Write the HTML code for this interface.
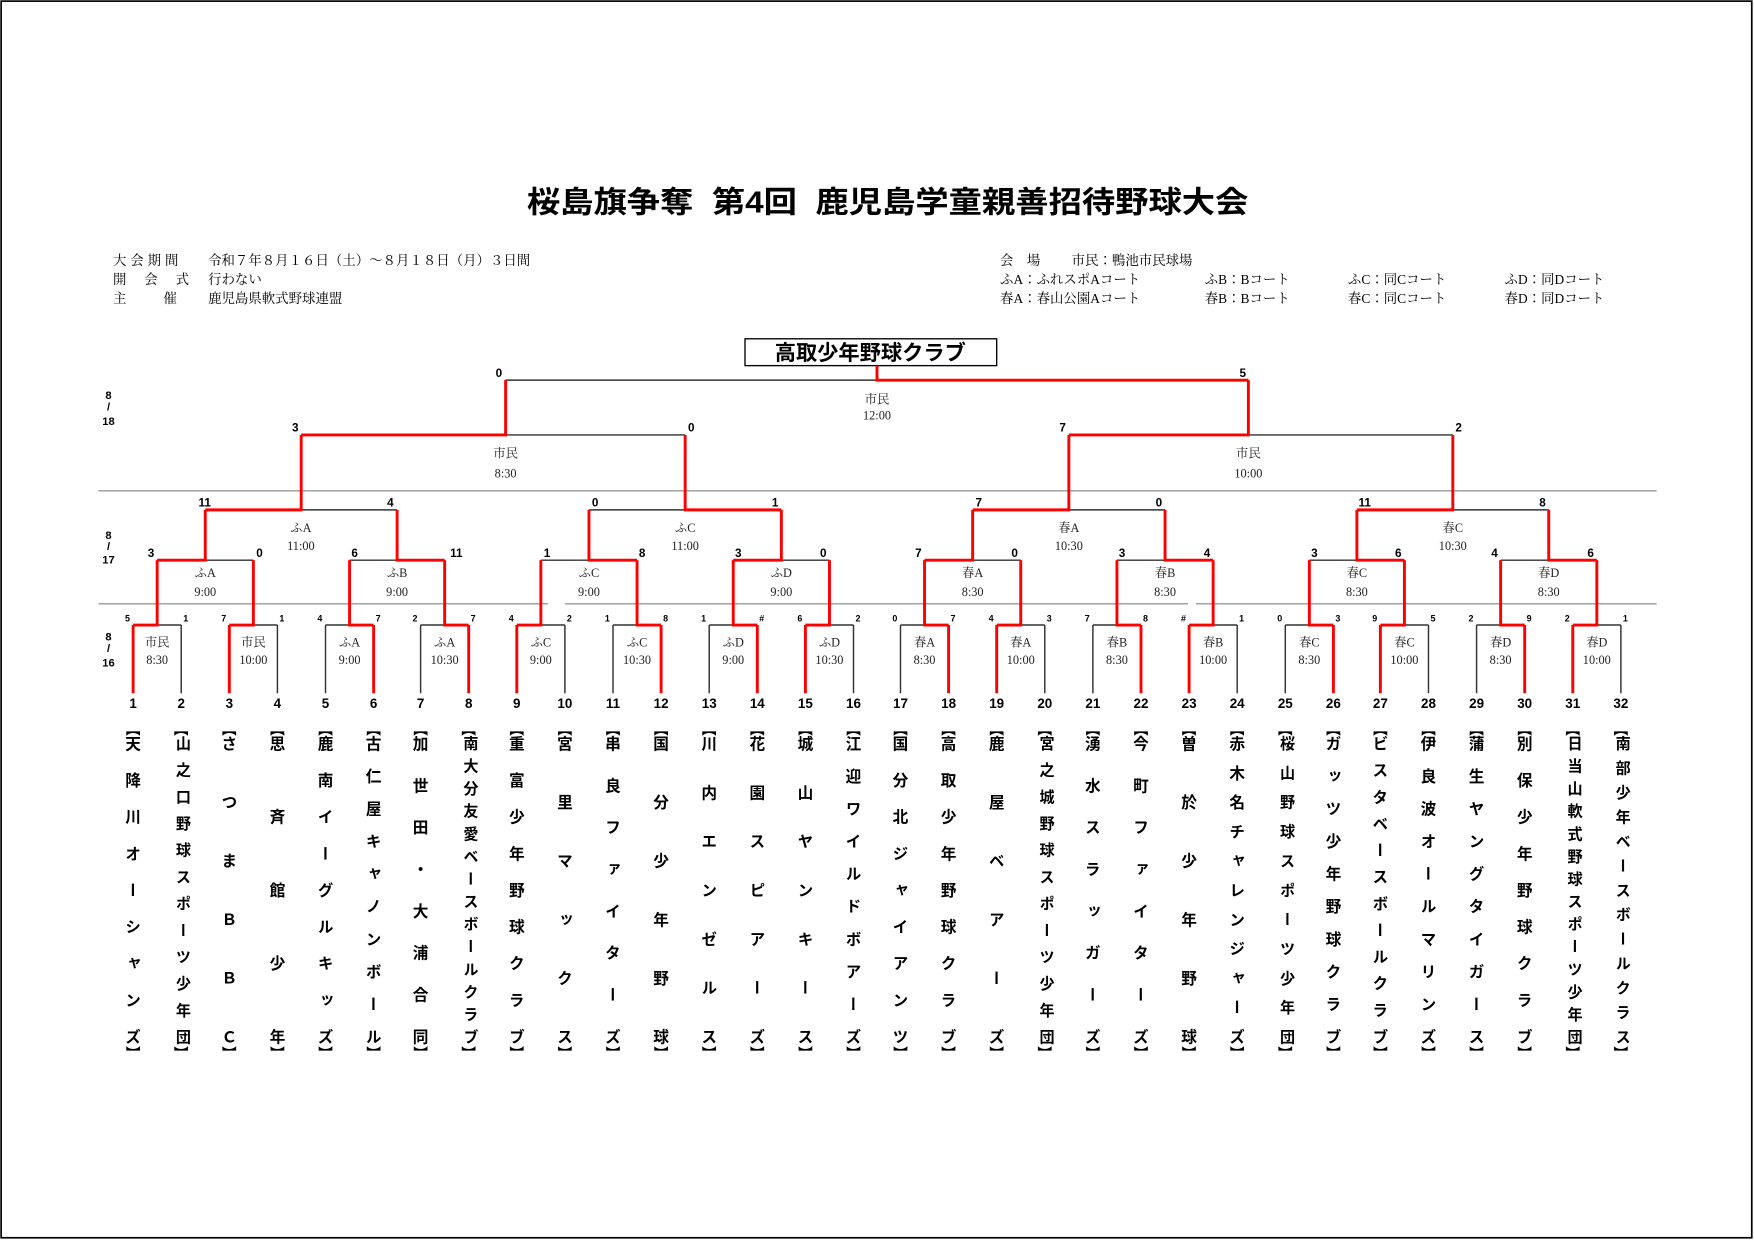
<!DOCTYPE html>
<html><head><meta charset="utf-8">
<style>
html,body{margin:0;padding:0;background:#fff;}
body{width:1754px;height:1240px;overflow:hidden;position:relative;}
#c{position:absolute;left:0;top:0;width:1568px;height:1109px;transform:scale(1.11862,1.11812);transform-origin:0 0;}
svg{position:absolute;left:0;top:0;}
.nm{position:absolute;top:658px;height:276px;width:18px;writing-mode:vertical-rl;text-orientation:upright;text-align:justify;text-align-last:justify;font-family:"Liberation Sans","Noto Sans CJK JP",sans-serif;font-weight:700;font-size:14px;line-height:18px;color:#000;}
.nm.s{font-size:13.5px;}
.br{position:absolute;width:18px;text-align:center;font-family:"Noto Sans CJK JP",sans-serif;font-weight:700;font-size:13px;line-height:13px;}
.info{position:absolute;font-family:"Liberation Serif","Noto Serif CJK JP",serif;font-size:12px;line-height:14px;white-space:nowrap;}
.lab{letter-spacing:3.5px;}
</style></head><body>
<div id="c">
<svg width="1568" height="1109" viewBox="0 0 1568 1109">
<rect x="1" y="1" width="1565" height="1106" fill="none" stroke="#000" stroke-width="1.5"/>
<text x="471" y="190" textLength="645" lengthAdjust="spacingAndGlyphs" font-family="Liberation Sans,Noto Sans CJK JP,sans-serif" font-weight="700" font-size="27" xml:space="preserve">桜島旗争奪  第4回  鹿児島学童親善招待野球大会</text>
<line x1="88" y1="439" x2="1481" y2="439" stroke="#999" stroke-width="1.2"/>
<line x1="88" y1="540" x2="490" y2="540" stroke="#999" stroke-width="1.2"/>
<line x1="505" y1="540" x2="1062" y2="540" stroke="#999" stroke-width="1.2"/>
<line x1="1069" y1="540" x2="1481" y2="540" stroke="#999" stroke-width="1.2"/>
<g font-family="Liberation Sans,sans-serif" font-weight="700" font-size="10" text-anchor="middle">
<text x="97" y="357">8</text><text x="97" y="367">/</text><text x="97" y="380">18</text>
<text x="97" y="482">8</text><text x="97" y="492">/</text><text x="97" y="504">17</text>
<text x="97" y="573">8</text><text x="97" y="583">/</text><text x="97" y="596">16</text>
</g>
<rect x="666" y="303" width="225" height="24" fill="#fff" stroke="#000" stroke-width="1.2"/>
<text x="778" y="322" text-anchor="middle" font-family="Liberation Sans,Noto Sans CJK JP,sans-serif" font-weight="700" font-size="19">高取少年野球クラブ</text>
<path fill="none" stroke="#333" stroke-width="1.3" d="
M162 620V559M248 620V559M291 620V559M376 620V559M505 620V559M548 620V559M634 620V559M763 620V559M805 620V559M934 620V559M977 620V559M1106 620V559M1149 620V559M1277 620V559M1320 620V559M1449 620V559
M162 559H140.5M248 559H226.5M291 559H312.5M376 559H397.5M505 559H483.5M548 559H569.5M634 559H655.5M763 559H741.5M805 559H826.5M934 559H912.5M977 559H998.5M1106 559H1084.5M1149 559H1170.5M1277 559H1255.5M1320 559H1341.5M1449 559H1427.5
M226.5 501H183.5M312.5 501H355M483.5 501H526.5M741.5 501H698.5M912.5 501H869.5M998.5 501H1041.5M1170.5 501H1213M1341.5 501H1384.5
M355 456H269.25M526.5 456H612.5M1041.5 456H955.5M1384.5 456H1298.75
M612.5 389H452M1298.75 389H1116M452 340H784"/>
<path fill="none" stroke="#f00" stroke-width="2.6" stroke-linejoin="miter" d="
M119 620V559M205 620V559M334 620V559M419 620V559M462 620V559M591 620V559M677 620V559M720 620V559M848 620V559M891 620V559M1020 620V559M1063 620V559M1192 620V559M1234 620V559M1363 620V559M1406 620V559
M119 559H140.5V501M205 559H226.5V501M334 559H312.5V501M419 559H397.5V501M462 559H483.5V501M591 559H569.5V501M677 559H655.5V501M720 559H741.5V501M848 559H826.5V501M891 559H912.5V501M1020 559H998.5V501M1063 559H1084.5V501M1192 559H1170.5V501M1234 559H1255.5V501M1363 559H1341.5V501M1406 559H1427.5V501
M140.5 501H183.5V456M397.5 501H355V456M569.5 501H526.5V456M655.5 501H698.5V456M826.5 501H869.5V456M1084.5 501H1041.5V456M1255.5 501H1213V456M1427.5 501H1384.5V456
M183.5 456H269.25V389M698.5 456H612.5V389M869.5 456H955.5V389M1213 456H1298.75V389
M269.25 389H452V340M955.5 389H1116V340M1116 340H784V327"/>
<g font-family="Liberation Sans,sans-serif" font-weight="700" font-size="8" text-anchor="middle">
<text x="114" y="556">5</text><text x="166" y="556">1</text><text x="200" y="556">7</text><text x="252" y="556">1</text>
<text x="286" y="556">4</text><text x="338" y="556">7</text><text x="371" y="556">2</text><text x="423" y="556">7</text>
<text x="457" y="556">4</text><text x="509" y="556">2</text><text x="543" y="556">1</text><text x="595" y="556">8</text>
<text x="629" y="556">1</text><text x="681" y="556">#</text><text x="715" y="556">6</text><text x="767" y="556">2</text>
<text x="800" y="556">0</text><text x="852" y="556">7</text><text x="886" y="556">4</text><text x="938" y="556">3</text>
<text x="972" y="556">7</text><text x="1024" y="556">8</text><text x="1058" y="556">#</text><text x="1110" y="556">1</text>
<text x="1144" y="556">0</text><text x="1196" y="556">3</text><text x="1229" y="556">9</text><text x="1281" y="556">5</text>
<text x="1315" y="556">2</text><text x="1367" y="556">9</text><text x="1401" y="556">2</text><text x="1453" y="556">1</text>
</g>
<g font-family="Liberation Sans,sans-serif" font-weight="700" font-size="10.5" text-anchor="middle">
<text x="135" y="498">3</text><text x="232" y="498">0</text><text x="317" y="498">6</text><text x="408" y="498">11</text>
<text x="489" y="498">1</text><text x="574" y="498">8</text><text x="660" y="498">3</text><text x="736" y="498">0</text>
<text x="821" y="498">7</text><text x="907" y="498">0</text><text x="1003" y="498">3</text><text x="1079" y="498">4</text>
<text x="1175" y="498">3</text><text x="1250" y="498">6</text><text x="1336" y="498">4</text><text x="1422" y="498">6</text>
<text x="183" y="453">11</text><text x="349" y="453">4</text><text x="532" y="453">0</text><text x="693" y="453">1</text>
<text x="875" y="453">7</text><text x="1036" y="453">0</text><text x="1220" y="453">11</text><text x="1379" y="453">8</text>
<text x="264" y="386">3</text><text x="618" y="386">0</text><text x="950" y="386">7</text><text x="1304" y="386">2</text>
<text x="446" y="337">0</text><text x="1111" y="337">5</text>
</g>
<g font-family="Liberation Sans,sans-serif" font-weight="700" font-size="12" text-anchor="middle">
<text x="119" y="633">1</text><text x="162" y="633">2</text><text x="205" y="633">3</text><text x="248" y="633">4</text>
<text x="291" y="633">5</text><text x="334" y="633">6</text><text x="376" y="633">7</text><text x="419" y="633">8</text>
<text x="462" y="633">9</text><text x="505" y="633">10</text><text x="548" y="633">11</text><text x="591" y="633">12</text>
<text x="634" y="633">13</text><text x="677" y="633">14</text><text x="720" y="633">15</text><text x="763" y="633">16</text>
<text x="805" y="633">17</text><text x="848" y="633">18</text><text x="891" y="633">19</text><text x="934" y="633">20</text>
<text x="977" y="633">21</text><text x="1020" y="633">22</text><text x="1063" y="633">23</text><text x="1106" y="633">24</text>
<text x="1149" y="633">25</text><text x="1192" y="633">26</text><text x="1234" y="633">27</text><text x="1277" y="633">28</text>
<text x="1320" y="633">29</text><text x="1363" y="633">30</text><text x="1406" y="633">31</text><text x="1449" y="633">32</text>
</g>
<g font-family="Liberation Serif,Noto Serif CJK JP,serif" font-size="11" text-anchor="middle" fill="#222">
<text x="140.5" y="578">市民</text><text x="140.5" y="594">8:30</text>
<text x="226.5" y="578">市民</text><text x="226.5" y="594">10:00</text>
<text x="312.5" y="578">ふA</text><text x="312.5" y="594">9:00</text>
<text x="397.5" y="578">ふA</text><text x="397.5" y="594">10:30</text>
<text x="483.5" y="578">ふC</text><text x="483.5" y="594">9:00</text>
<text x="569.5" y="578">ふC</text><text x="569.5" y="594">10:30</text>
<text x="655.5" y="578">ふD</text><text x="655.5" y="594">9:00</text>
<text x="741.5" y="578">ふD</text><text x="741.5" y="594">10:30</text>
<text x="826.5" y="578">春A</text><text x="826.5" y="594">8:30</text>
<text x="912.5" y="578">春A</text><text x="912.5" y="594">10:00</text>
<text x="998.5" y="578">春B</text><text x="998.5" y="594">8:30</text>
<text x="1084.5" y="578">春B</text><text x="1084.5" y="594">10:00</text>
<text x="1170.5" y="578">春C</text><text x="1170.5" y="594">8:30</text>
<text x="1255.5" y="578">春C</text><text x="1255.5" y="594">10:00</text>
<text x="1341.5" y="578">春D</text><text x="1341.5" y="594">8:30</text>
<text x="1427.5" y="578">春D</text><text x="1427.5" y="594">10:00</text>
<text x="183.5" y="516">ふA</text><text x="183.5" y="533">9:00</text>
<text x="355" y="516">ふB</text><text x="355" y="533">9:00</text>
<text x="526.5" y="516">ふC</text><text x="526.5" y="533">9:00</text>
<text x="698.5" y="516">ふD</text><text x="698.5" y="533">9:00</text>
<text x="869.5" y="516">春A</text><text x="869.5" y="533">8:30</text>
<text x="1041.5" y="516">春B</text><text x="1041.5" y="533">8:30</text>
<text x="1213" y="516">春C</text><text x="1213" y="533">8:30</text>
<text x="1384.5" y="516">春D</text><text x="1384.5" y="533">8:30</text>
<text x="269" y="476">ふA</text><text x="269" y="492">11:00</text>
<text x="612.5" y="476">ふC</text><text x="612.5" y="492">11:00</text>
<text x="955.5" y="476">春A</text><text x="955.5" y="492">10:30</text>
<text x="1298.75" y="476">春C</text><text x="1298.75" y="492">10:30</text>
<text x="452" y="409">市民</text><text x="452" y="427">8:30</text>
<text x="1116" y="409">市民</text><text x="1116" y="427">10:00</text>
<text x="784" y="361">市民</text><text x="784" y="375">12:00</text>
</g>
</svg>
<div class="info lab" style="left:101px;top:226px;">大会期間</div>
<div class="info" style="left:186px;top:226px;">令和７年８月１６日（土）～８月１８日（月）３日間</div>
<div class="info" style="left:101px;top:243px;letter-spacing:2px;">開　会　式</div>
<div class="info" style="left:186px;top:243px;">行わない</div>
<div class="info" style="left:101px;top:260px;letter-spacing:3px;">主　　催</div>
<div class="info" style="left:186px;top:260px;">鹿児島県軟式野球連盟</div>
<div class="info" style="left:894px;top:226px;">会　場</div>
<div class="info" style="left:958px;top:226px;">市民：鴨池市民球場</div>
<div class="info" style="left:894px;top:243px;">ふA：ふれスポAコート</div>
<div class="info" style="left:1077px;top:243px;">ふB：Bコート</div>
<div class="info" style="left:1205px;top:243px;">ふC：同Cコート</div>
<div class="info" style="left:1345px;top:243px;">ふD：同Dコート</div>
<div class="info" style="left:894px;top:260px;">春A：春山公園Aコート</div>
<div class="info" style="left:1077px;top:260px;">春B：Bコート</div>
<div class="info" style="left:1205px;top:260px;">春C：同Cコート</div>
<div class="info" style="left:1345px;top:260px;">春D：同Dコート</div>

<div class="nm" style="left:110px">天降川オーシャンズ</div>
<div class="nm s" style="left:153px">山之口野球スポーツ少年団</div>
<div class="nm" style="left:196px">さつまＢＢＣ</div>
<div class="nm" style="left:239px">思斉館少年</div>
<div class="nm" style="left:282px">鹿南イーグルキッズ</div>
<div class="nm" style="left:325px">古仁屋キャノンボール</div>
<div class="nm" style="left:367px">加世田・大浦合同</div>
<div class="nm s" style="left:410px">南大分友愛ベースボールクラブ</div>
<div class="nm" style="left:453px">重富少年野球クラブ</div>
<div class="nm" style="left:496px">宮里マックス</div>
<div class="nm" style="left:539px">串良ファイターズ</div>
<div class="nm" style="left:582px">国分少年野球</div>
<div class="nm" style="left:625px">川内エンゼルス</div>
<div class="nm" style="left:668px">花園スピアーズ</div>
<div class="nm" style="left:711px">城山ヤンキース</div>
<div class="nm" style="left:754px">江迎ワイルドボアーズ</div>
<div class="nm" style="left:796px">国分北ジャイアンツ</div>
<div class="nm" style="left:839px">高取少年野球クラブ</div>
<div class="nm" style="left:882px">鹿屋ベアーズ</div>
<div class="nm s" style="left:925px">宮之城野球スポーツ少年団</div>
<div class="nm" style="left:968px">湧水スラッガーズ</div>
<div class="nm" style="left:1011px">今町ファイターズ</div>
<div class="nm" style="left:1054px">曽於少年野球</div>
<div class="nm" style="left:1097px">赤木名チャレンジャーズ</div>
<div class="nm s" style="left:1140px">桜山野球スポーツ少年団</div>
<div class="nm" style="left:1183px">ガッツ少年野球クラブ</div>
<div class="nm" style="left:1225px">ビスタベースボールクラブ</div>
<div class="nm" style="left:1268px">伊良波オールマリンズ</div>
<div class="nm" style="left:1311px">蒲生ヤングタイガース</div>
<div class="nm" style="left:1354px">別保少年野球クラブ</div>
<div class="nm s" style="left:1397px">日当山軟式野球スポーツ少年団</div>
<div class="nm s" style="left:1440px">南部少年ベースボールクラス</div>

<div class="br" style="left:110px;top:645px">︻</div><div class="br" style="left:110px;top:935px">︼</div>
<div class="br" style="left:153px;top:645px">︻</div><div class="br" style="left:153px;top:935px">︼</div>
<div class="br" style="left:196px;top:645px">︻</div><div class="br" style="left:196px;top:935px">︼</div>
<div class="br" style="left:239px;top:645px">︻</div><div class="br" style="left:239px;top:935px">︼</div>
<div class="br" style="left:282px;top:645px">︻</div><div class="br" style="left:282px;top:935px">︼</div>
<div class="br" style="left:325px;top:645px">︻</div><div class="br" style="left:325px;top:935px">︼</div>
<div class="br" style="left:367px;top:645px">︻</div><div class="br" style="left:367px;top:935px">︼</div>
<div class="br" style="left:410px;top:645px">︻</div><div class="br" style="left:410px;top:935px">︼</div>
<div class="br" style="left:453px;top:645px">︻</div><div class="br" style="left:453px;top:935px">︼</div>
<div class="br" style="left:496px;top:645px">︻</div><div class="br" style="left:496px;top:935px">︼</div>
<div class="br" style="left:539px;top:645px">︻</div><div class="br" style="left:539px;top:935px">︼</div>
<div class="br" style="left:582px;top:645px">︻</div><div class="br" style="left:582px;top:935px">︼</div>
<div class="br" style="left:625px;top:645px">︻</div><div class="br" style="left:625px;top:935px">︼</div>
<div class="br" style="left:668px;top:645px">︻</div><div class="br" style="left:668px;top:935px">︼</div>
<div class="br" style="left:711px;top:645px">︻</div><div class="br" style="left:711px;top:935px">︼</div>
<div class="br" style="left:754px;top:645px">︻</div><div class="br" style="left:754px;top:935px">︼</div>
<div class="br" style="left:796px;top:645px">︻</div><div class="br" style="left:796px;top:935px">︼</div>
<div class="br" style="left:839px;top:645px">︻</div><div class="br" style="left:839px;top:935px">︼</div>
<div class="br" style="left:882px;top:645px">︻</div><div class="br" style="left:882px;top:935px">︼</div>
<div class="br" style="left:925px;top:645px">︻</div><div class="br" style="left:925px;top:935px">︼</div>
<div class="br" style="left:968px;top:645px">︻</div><div class="br" style="left:968px;top:935px">︼</div>
<div class="br" style="left:1011px;top:645px">︻</div><div class="br" style="left:1011px;top:935px">︼</div>
<div class="br" style="left:1054px;top:645px">︻</div><div class="br" style="left:1054px;top:935px">︼</div>
<div class="br" style="left:1097px;top:645px">︻</div><div class="br" style="left:1097px;top:935px">︼</div>
<div class="br" style="left:1140px;top:645px">︻</div><div class="br" style="left:1140px;top:935px">︼</div>
<div class="br" style="left:1183px;top:645px">︻</div><div class="br" style="left:1183px;top:935px">︼</div>
<div class="br" style="left:1225px;top:645px">︻</div><div class="br" style="left:1225px;top:935px">︼</div>
<div class="br" style="left:1268px;top:645px">︻</div><div class="br" style="left:1268px;top:935px">︼</div>
<div class="br" style="left:1311px;top:645px">︻</div><div class="br" style="left:1311px;top:935px">︼</div>
<div class="br" style="left:1354px;top:645px">︻</div><div class="br" style="left:1354px;top:935px">︼</div>
<div class="br" style="left:1397px;top:645px">︻</div><div class="br" style="left:1397px;top:935px">︼</div>
<div class="br" style="left:1440px;top:645px">︻</div><div class="br" style="left:1440px;top:935px">︼</div>
</div>
</body></html>
